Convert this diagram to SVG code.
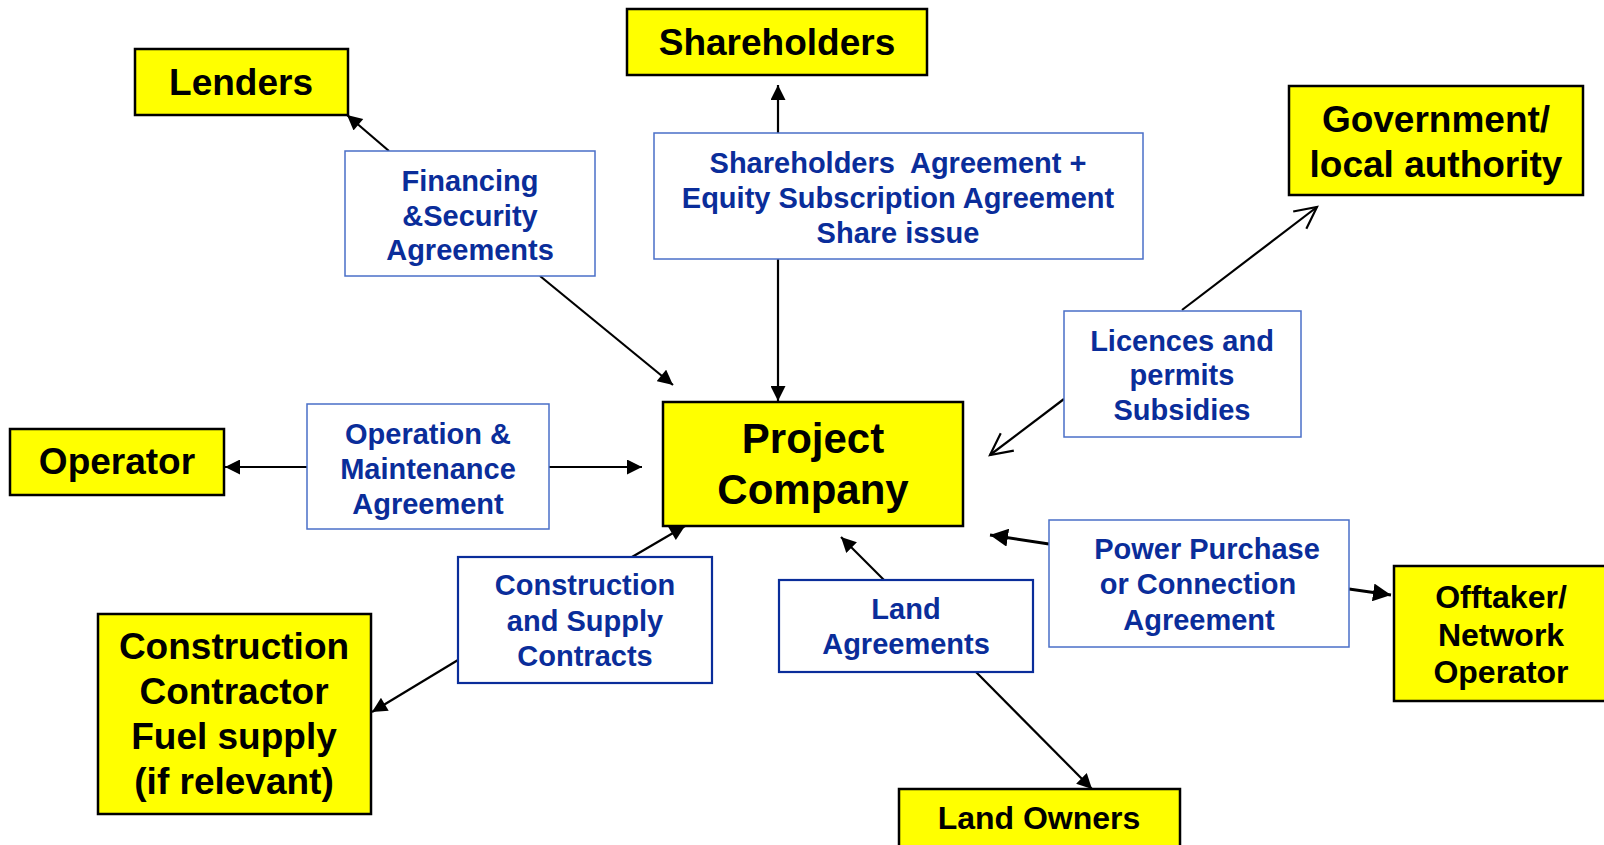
<svg xmlns="http://www.w3.org/2000/svg" width="1604" height="845" viewBox="0 0 1604 845">
<defs>
<style>
.party{fill:#ffff00;stroke:#000;stroke-width:2.5}
.pt{font-family:"Liberation Sans",Arial,sans-serif;font-weight:bold;fill:#000;text-anchor:middle}
.lbl{fill:#fff;stroke:#4a6fc8;stroke-width:1.5}
.lbld{fill:#fff;stroke:#0a2d9a;stroke-width:2.2}
.lt{font-family:"Liberation Sans",Arial,sans-serif;font-weight:bold;font-size:29px;fill:#0a2d9a;text-anchor:middle}
.c{stroke:#000;stroke-width:2.2;fill:none}
.c3{stroke:#000;stroke-width:3;fill:none}
</style>
<marker id="ah" viewBox="0 0 10 10" refX="10" refY="5" markerWidth="16" markerHeight="15" markerUnits="userSpaceOnUse" orient="auto">
<path d="M0,0 L10,5 L0,10 z" fill="#000"/>
</marker>
<marker id="ahb" viewBox="0 0 10 10" refX="10" refY="5" markerWidth="18" markerHeight="18" markerUnits="userSpaceOnUse" orient="auto">
<path d="M0,0 L10,5 L0,10 z" fill="#000"/>
</marker>
<marker id="ao" viewBox="0 0 12 12" refX="11" refY="6" markerWidth="26" markerHeight="26" markerUnits="userSpaceOnUse" orient="auto">
<path d="M1,1 L11,6 L1,11" fill="none" stroke="#000" stroke-width="1"/>
</marker>
</defs>

<g id="connectors">
<line class="c" x1="389" y1="151" x2="347" y2="115" marker-end="url(#ah)"/>
<line class="c" x1="540" y1="276" x2="673" y2="385" marker-end="url(#ah)"/>
<line class="c" x1="778" y1="133" x2="778" y2="85" marker-end="url(#ah)"/>
<line class="c" x1="778" y1="259" x2="778" y2="401" marker-end="url(#ah)"/>
<line class="c" x1="1182" y1="310" x2="1317" y2="207" marker-end="url(#ao)"/>
<line class="c" x1="1064" y1="399" x2="990" y2="455" marker-end="url(#ao)"/>
<line class="c" x1="308" y1="467" x2="225" y2="467" marker-end="url(#ah)"/>
<line class="c" x1="549" y1="467" x2="642" y2="467" marker-end="url(#ah)"/>
<line class="c" x1="632" y1="557" x2="685" y2="526" marker-end="url(#ah)"/>
<line class="c" x1="458" y1="660" x2="372" y2="712" marker-end="url(#ah)"/>
<line class="c" x1="884" y1="580" x2="841" y2="537" marker-end="url(#ah)"/>
<line class="c" x1="976" y1="672" x2="1092" y2="789" marker-end="url(#ah)"/>
<line class="c3" x1="1049" y1="544" x2="990" y2="535" marker-end="url(#ahb)"/>
<line class="c3" x1="1349" y1="589" x2="1391" y2="595" marker-end="url(#ahb)"/>
</g>

<g id="lenders">
<rect class="party" x="135" y="49" width="213" height="66"/>
<text class="pt" x="241" y="95" font-size="37">Lenders</text>
</g>
<g id="shareholders">
<rect class="party" x="627" y="9" width="300" height="66"/>
<text class="pt" x="777" y="55" font-size="37">Shareholders</text>
</g>
<g id="government">
<rect class="party" x="1289" y="86" width="294" height="109"/>
<text class="pt" x="1436" y="132" font-size="37">Government/</text>
<text class="pt" x="1436" y="177" font-size="37">local authority</text>
</g>
<g id="operator">
<rect class="party" x="10" y="429" width="214" height="66"/>
<text class="pt" x="117" y="474" font-size="37">Operator</text>
</g>
<g id="project-company">
<rect class="party" x="663" y="402" width="300" height="124" stroke-width="3"/>
<text class="pt" x="813" y="453" font-size="42">Project</text>
<text class="pt" x="813" y="504" font-size="42">Company</text>
</g>
<g id="construction-contractor">
<rect class="party" x="98" y="614" width="273" height="200"/>
<text class="pt" x="234" y="659" font-size="37">Construction</text>
<text class="pt" x="234" y="704" font-size="37">Contractor</text>
<text class="pt" x="234" y="749" font-size="37">Fuel supply</text>
<text class="pt" x="234" y="794" font-size="37">(if relevant)</text>
</g>
<g id="offtaker">
<rect class="party" x="1394" y="566" width="220" height="135"/>
<text class="pt" x="1501" y="608" font-size="32">Offtaker/</text>
<text class="pt" x="1501" y="646" font-size="32">Network</text>
<text class="pt" x="1501" y="683" font-size="32">Operator</text>
</g>
<g id="land-owners">
<rect class="party" x="899" y="789" width="281" height="70" stroke="#000" stroke-width="1.5"/>
<text class="pt" x="1039" y="829" font-size="32">Land Owners</text>
</g>

<g id="financing">
<rect class="lbl" x="345" y="151" width="250" height="125"/>
<text class="lt" x="470" y="191">Financing</text>
<text class="lt" x="470" y="226">&amp;Security</text>
<text class="lt" x="470" y="260">Agreements</text>
</g>
<g id="shareholders-agreement">
<rect class="lbl" x="654" y="133" width="489" height="126"/>
<text class="lt" x="898" y="173" xml:space="preserve">Shareholders  Agreement +</text>
<text class="lt" x="898" y="208">Equity Subscription Agreement</text>
<text class="lt" x="898" y="243">Share issue</text>
</g>
<g id="licences">
<rect class="lbl" x="1064" y="311" width="237" height="126"/>
<text class="lt" x="1182" y="351">Licences and</text>
<text class="lt" x="1182" y="385">permits</text>
<text class="lt" x="1182" y="420">Subsidies</text>
</g>
<g id="om-agreement">
<rect class="lbl" x="307" y="404" width="242" height="125"/>
<text class="lt" x="428" y="444">Operation &amp;</text>
<text class="lt" x="428" y="479">Maintenance</text>
<text class="lt" x="428" y="514">Agreement</text>
</g>
<g id="construction-supply">
<rect class="lbld" x="458" y="557" width="254" height="126"/>
<text class="lt" x="585" y="595">Construction</text>
<text class="lt" x="585" y="631">and Supply</text>
<text class="lt" x="585" y="666">Contracts</text>
</g>
<g id="land-agreements">
<rect class="lbld" x="779" y="580" width="254" height="92"/>
<text class="lt" x="906" y="619">Land</text>
<text class="lt" x="906" y="654">Agreements</text>
</g>
<g id="power-purchase">
<rect class="lbl" x="1049" y="520" width="300" height="127"/>
<text class="lt" x="1207" y="559">Power Purchase</text>
<text class="lt" x="1198" y="594">or Connection</text>
<text class="lt" x="1199" y="630">Agreement</text>
</g>
</svg>
